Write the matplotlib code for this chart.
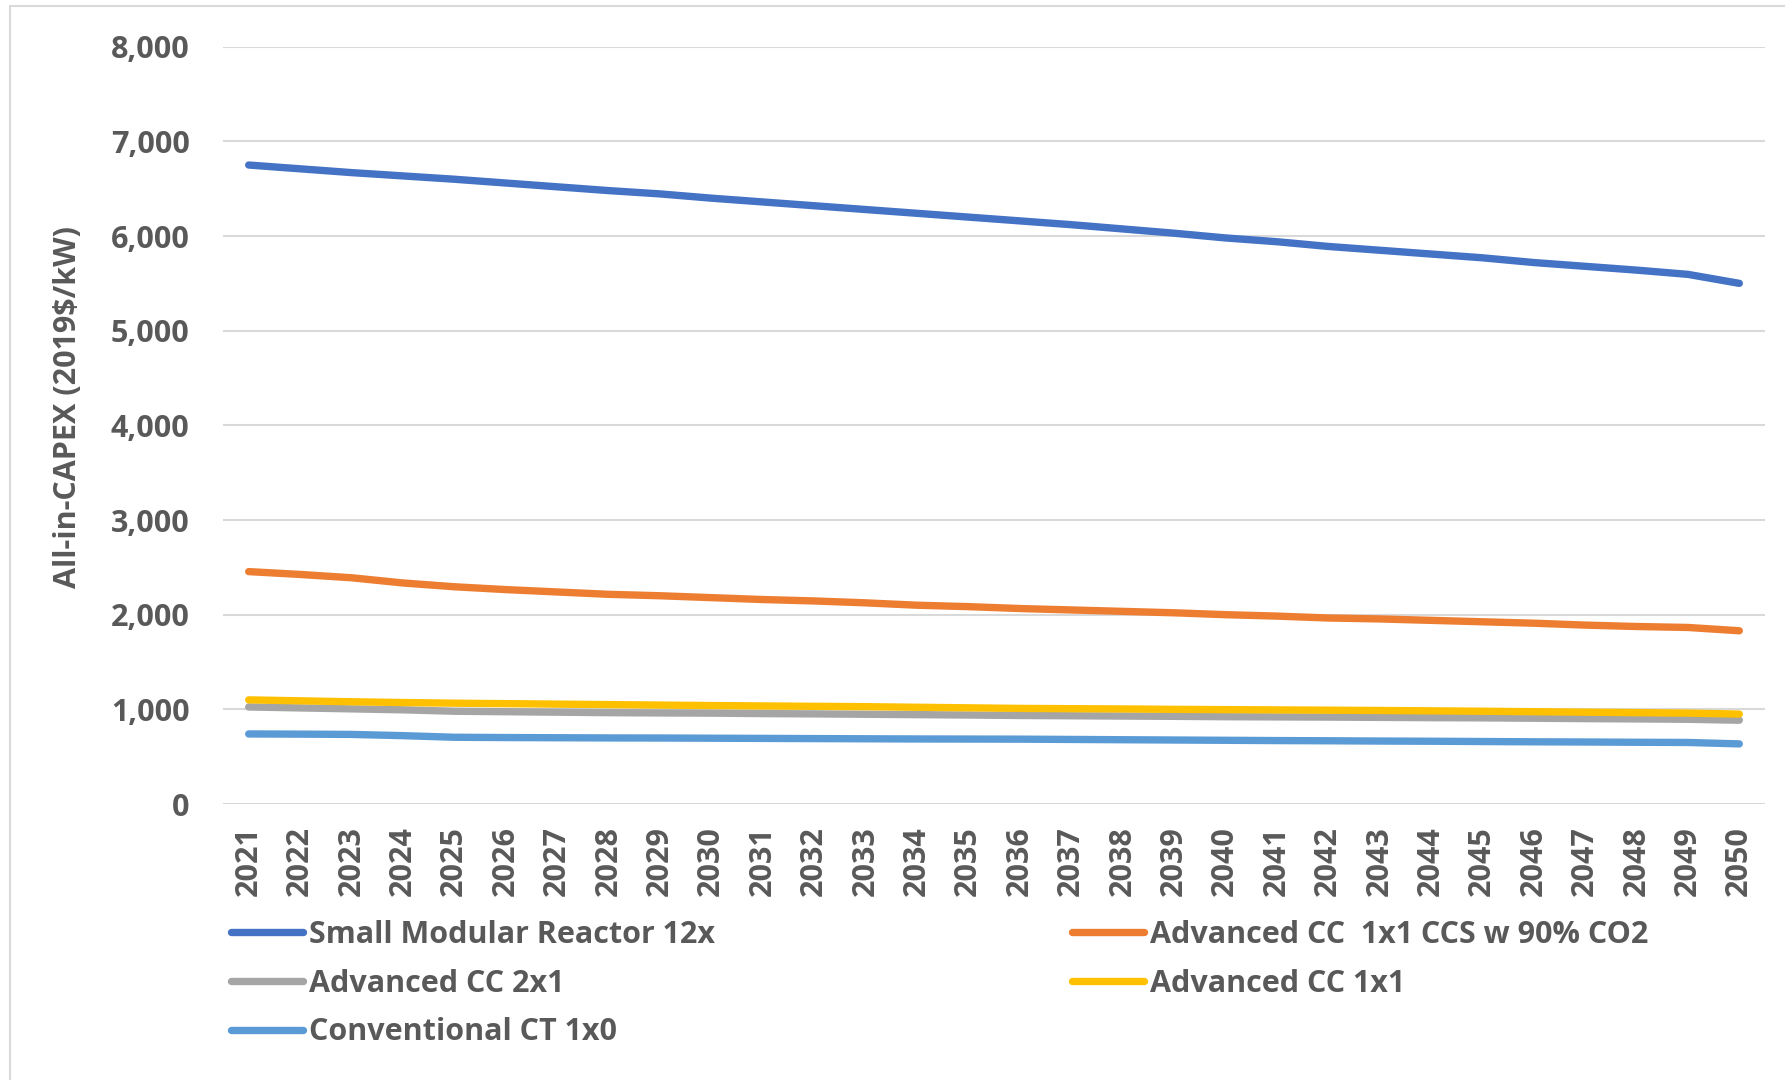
import numpy as np
import matplotlib.pyplot as plt
from matplotlib.patches import Rectangle

years = list(range(2021, 2051))

smr = [6750, 6710, 6670, 6635, 6600, 6560, 6520, 6480, 6445, 6400,
       6360, 6320, 6280, 6240, 6200, 6160, 6120, 6075, 6030, 5980,
       5940, 5890, 5850, 5810, 5770, 5720, 5680, 5640, 5595, 5500]
cc_ccs = [2455, 2425, 2390, 2335, 2295, 2265, 2240, 2215, 2200, 2180,
          2160, 2145, 2125, 2100, 2085, 2065, 2050, 2035, 2020, 2000,
          1985, 1965, 1955, 1940, 1925, 1910, 1890, 1875, 1865, 1830]
cc_2x1 = [1025, 1015, 1005, 995, 980, 975, 970, 965, 962, 960,
          955, 952, 948, 944, 940, 935, 932, 929, 926, 922,
          920, 918, 915, 912, 910, 906, 902, 899, 895, 885]
cc_1x1 = [1100, 1090, 1080, 1072, 1065, 1060, 1055, 1050, 1045, 1040,
          1036, 1032, 1028, 1022, 1016, 1010, 1007, 1004, 1000, 997,
          994, 991, 988, 984, 980, 975, 970, 965, 960, 950]
ct_1x0 = [740, 738, 735, 722, 705, 702, 700, 698, 697, 695,
          693, 691, 689, 687, 686, 685, 682, 679, 676, 673,
          670, 668, 665, 663, 660, 657, 655, 652, 650, 635]

labels = ['Small Modular Reactor 12x', 'Advanced CC  1x1 CCS w 90% CO2',
          'Advanced CC 2x1', 'Advanced CC 1x1', 'Conventional CT 1x0']
colors = ['#4472C4', '#ED7D31', '#A5A5A5', '#FFC000', '#5B9BD5']
series = [smr, cc_ccs, cc_2x1, cc_1x1, ct_1x0]

txt = '#595959'
fs = 22
plt.rcParams['font.family'] = ['Open Sans', 'DejaVu Sans']
plt.rcParams['font.weight'] = 'bold'

fig = plt.figure(figsize=(17.85, 10.8), dpi=100)
ax = fig.add_axes([223 / 1785, 1 - 804 / 1080, (1765 - 223) / 1785, (804 - 46.7) / 1080])

# chart area border (only left and top visible in the reference)
fig.patches.append(Rectangle((10 / 1785, -0.1), 1.2, 1.1 - 6 / 1080, transform=fig.transFigure,
                             fill=False, edgecolor='#D9D9D9', lw=1.5))

lines = []
for vals, lab, col in zip(series, labels, colors):
    ln, = ax.plot(years, vals, color=col, lw=5.3, label=lab,
                  solid_capstyle='round', solid_joinstyle='round')
    lines.append(ln)

ax.set_xlim(2020.5, 2050.5)
ax.set_ylim(0, 8000)
ax.set_yticks(np.arange(0, 8001, 1000))
ax.set_yticklabels([f'{v:,}' for v in range(0, 8001, 1000)])
ax.set_xticks(years)
ax.set_xticklabels([str(y) for y in years], rotation=90)
ax.yaxis.grid(True, color='#D9D9D9', lw=1.5)
ax.set_axisbelow(True)
for s in ax.spines.values():
    s.set_visible(False)
ax.tick_params(axis='both', length=0, labelsize=fs, labelcolor=txt)
ax.tick_params(axis='y', pad=24)
ax.tick_params(axis='x', pad=16)

fig.text(68 / 1785, 1 - 407 / 1080, 'All-in-CAPEX (2019$/kW)', rotation=90,
         ha='center', va='center', fontsize=fs, color=txt, fontweight='bold')

order = [0, 2, 4, 1, 3]
leg = fig.legend([lines[i] for i in order], [labels[i] for i in order],
                 ncol=2, loc='upper left', bbox_to_anchor=(231 / 1785, 1 - 920 / 1080),
                 frameon=False, fontsize=fs, handlelength=2.35, handletextpad=0.2,
                 columnspacing=11.7, labelspacing=0.61, borderpad=0, borderaxespad=0)
for t in leg.get_texts():
    t.set_color(txt)
for h in leg.legend_handles:
    h.set_linewidth(5.3)
    h.set_solid_capstyle('round')

fig.savefig('out.png', dpi=100)
